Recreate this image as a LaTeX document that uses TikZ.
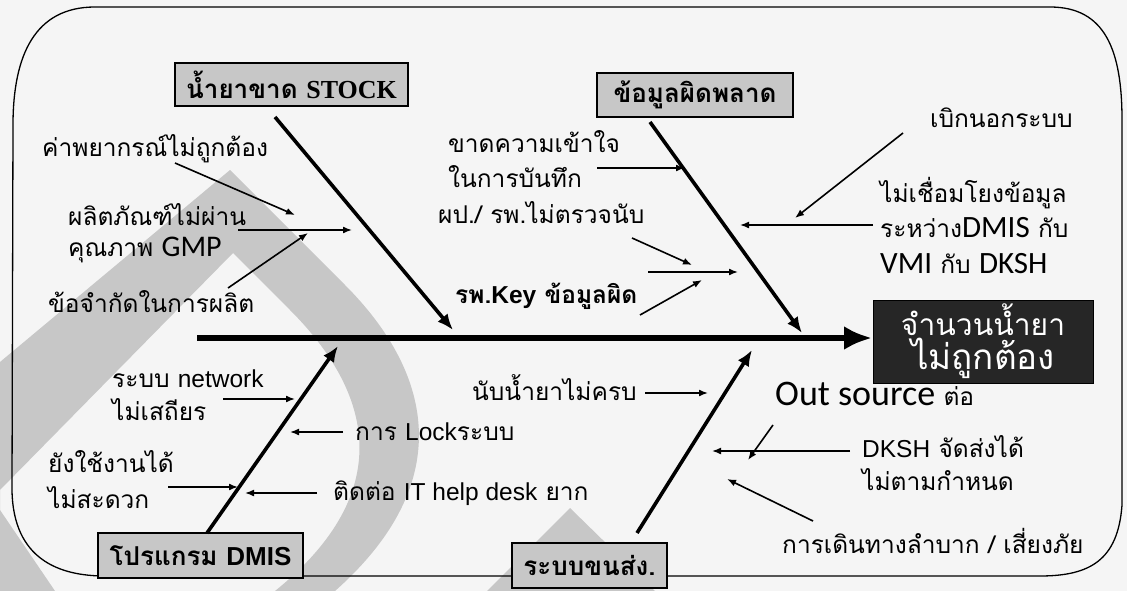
\documentclass[tikz,border=0pt]{standalone}
\usepackage{fontspec}
\usetikzlibrary{arrows.meta}
\newfontfamily\thf[Script=Thai]{Loma}
\newfontfamily\arf{Liberation Sans}
\newfontfamily\caf{Carlito}
\newfontfamily\tif{Liberation Serif}
\newcommand\bigcal{\caf\fontsize{31}{34}\selectfont}
\tikzset{
  lbl/.style={anchor=base west, inner sep=0pt, font=\thf\fontsize{24.5}{28}\selectfont},
  cat/.style={draw=black, line width=1.2pt, fill=black!22, inner sep=0pt, font=\thf\bfseries\fontsize{26}{30}\selectfont},
  thinarrow/.style={line width=1.6pt, -{Latex[length=9pt,width=7pt]}},
  bone/.style={line width=3.6pt, -{Latex[length=16pt,width=13pt]}},
  spine/.style={line width=6pt, -{Latex[length=28pt,width=24pt]}},
  wm/.style={fill=black!22, even odd rule}
}
\begin{document}
\begin{tikzpicture}[x=1pt,y=-1pt]
\useasboundingbox (0,0) rectangle (1127,591);
\fill[black!4] (0,0) rectangle (1127,591);
% watermark
\fill[wm] (0,362) -- (230,170) -- (345,285) .. controls (430,370) and (460,480) .. (335,591) -- (0,591) -- cycle
          (0,490) -- (233,253) -- (290,310) .. controls (370,390) and (400,490) .. (275,591) -- (0,591) -- cycle;
\fill[black!22] (0,510) -- (55,591) -- (0,591) -- cycle;
\fill[black!22] (570,508) -- (655,591) -- (487,591) -- cycle;
% frame
\draw[line width=1.3pt] (13,125) .. controls (13,55) and (35,7) .. (95,7) -- (1050,7)
  .. controls (1105,7) and (1122,50) .. (1122,120) -- (1122,505)
  .. controls (1118,560) and (1090,576) .. (1040,576) -- (105,576)
  .. controls (60,576) and (13,560) .. (12,490) -- cycle;
% category boxes
\node[cat, minimum width=233pt, minimum height=43pt] (stock) at (291.5,84.5) {น้ำยาขาด {\tif\bfseries STOCK}};
\node[cat, minimum width=196pt, minimum height=44pt] (data) at (695,95) {ข้อมูลผิดพลาด};
\node[cat, minimum width=205pt, minimum height=45pt] (dmis) at (200.5,555.5) {โปรแกรม {\arf\bfseries DMIS}};
\node[cat, minimum width=155pt, minimum height=45pt] (trans) at (589.5,565.5) {ระบบขนส่ง.};
\node[draw=black, fill=black!85, text=white, minimum width=220pt, minimum height=83pt, inner sep=0pt, align=center,
  font=\thf\fontsize{30}{36}\selectfont] (effect) at (983,341.5) {จำนวนน้ำยา\\[-2pt]{\fontsize{35}{38}\selectfont ไม่ถูกต้อง}};
% spine and bones
\coordinate (sp0) at (197,338);
\coordinate (sp1) at (872,338);
\draw[spine] (sp0) -- (sp1);
\coordinate (bs1) at (275,117); \coordinate (be1) at (453,330);
\coordinate (bs2) at (650,122); \coordinate (be2) at (802,333);
\coordinate (bs3) at (207,533); \coordinate (be3) at (338,346);
\coordinate (bs4) at (637,533); \coordinate (be4) at (752,350);
\draw[bone] (bs1) -- (be1);
\draw[bone] (bs2) -- (be2);
\draw[bone] (bs3) -- (be3);
\draw[bone] (bs4) -- (be4);
% labels
\node[lbl] (t1) at (42,157) {ค่าพยากรณ์ไม่ถูกต้อง};
\node[lbl] (t2a) at (68,225) {ผลิตภัณฑ์ไม่ผ่าน};
\node[lbl] (t2b) at (68,256) {คุณภาพ {\caf\fontsize{30}{33}\selectfont GMP}};
\node[lbl] (t3) at (48,312) {ข้อจำกัดในการผลิต};
\node[lbl] (t4a) at (448,153) {ขาดความเข้าใจ};
\node[lbl] (t4b) at (448,187) {ในการบันทึก};
\node[lbl] (t5) at (438,223) {ผป./ รพ.ไม่ตรวจนับ};
\node[lbl, font=\thf\bfseries\fontsize{24.5}{28}\selectfont] (t6) at (455,303) {รพ.{\arf\bfseries Key} ข้อมูลผิด};
\node[lbl] (t7) at (930,128) {เบิกนอกระบบ};
\node[lbl] (t8a) at (880,202) {ไม่เชื่อมโยงข้อมูล};
\node[lbl] (t8b) at (880,237) {ระหว่าง{\bigcal DMIS} กับ};
\node[lbl] (t8c) at (880,273) {{\bigcal VMI} กับ {\bigcal DKSH}};
\node[lbl] (t9a) at (112,387) {ระบบ {\arf network}};
\node[lbl] (t9b) at (112,420) {ไม่เสถียร};
\node[lbl] (t10) at (355,440) {การ {\arf Lock}ระบบ};
\node[lbl] (t11a) at (48,472) {ยังใช้งานได้};
\node[lbl] (t11b) at (48,508) {ไม่สะดวก};
\node[lbl] (t12) at (333,500) {ติดต่อ {\arf IT help desk} ยาก};
\node[lbl] (t13) at (472,400) {นับน้ำยาไม่ครบ};
\node[lbl] (t14) at (775,405) {{\caf\fontsize{36}{40}\selectfont Out source} ต่อ};
\node[lbl] (t15a) at (862,457) {{\arf DKSH} จัดส่งได้};
\node[lbl] (t15b) at (862,490) {ไม่ตามกำหนด};
\node[lbl] (t16) at (782,553) {การเดินทางลำบาก / เสี่ยงภัย};
% small arrows
\coordinate (a1s) at (175,163); \coordinate (a1e) at (295,215);
\coordinate (a2s) at (238,230); \coordinate (a2e) at (352,230);
\coordinate (a3s) at (228,288); \coordinate (a3e) at (308,233);
\coordinate (b1s) at (597,168); \coordinate (b1e) at (685,168);
\coordinate (b2s) at (632,238); \coordinate (b2e) at (692,265);
\coordinate (b3s) at (648,272); \coordinate (b3e) at (738,272);
\coordinate (b4s) at (640,315); \coordinate (b4e) at (702,280);
\coordinate (c1s) at (903,133); \coordinate (c1e) at (795,218);
\coordinate (c2s) at (873,225); \coordinate (c2e) at (740,225);
\coordinate (d1s) at (223,399); \coordinate (d1e) at (295,399);
\coordinate (d2s) at (343,432); \coordinate (d2e) at (290,432);
\coordinate (d3s) at (168,487); \coordinate (d3e) at (238,487);
\coordinate (d4s) at (317,493); \coordinate (d4e) at (245,493);
\coordinate (e1s) at (645,393); \coordinate (e1e) at (708,393);
\coordinate (e2s) at (773,425); \coordinate (e2e) at (748,460);
\coordinate (e3s) at (850,451); \coordinate (e3e) at (712,451);
\coordinate (e4s) at (813,521); \coordinate (e4e) at (727,479);
\foreach \p in {a1,a2,a3,b1,b2,b3,b4,c1,c2,d1,d2,d3,d4,e1,e2,e3,e4}
  \draw[thinarrow] (\p s) -- (\p e);
\end{tikzpicture}
\end{document}
